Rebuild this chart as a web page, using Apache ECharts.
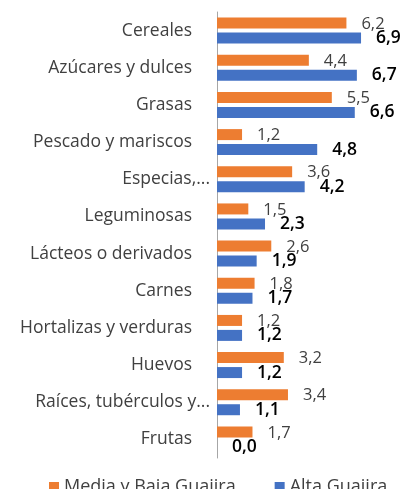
<!DOCTYPE html>
<html>
<head>
<meta charset="utf-8">
<script src="https://cdn.jsdelivr.net/npm/echarts@6/dist/echarts.min.js"></script>
<style>
  html, body { margin: 0; padding: 0; background: #fff; }
  #chart { width: 408px; height: 489px; }
</style>
</head>
<body>
<div id="chart"></div>
<script>
// categorias (de arriba hacia abajo)
var categorias = [
  'Cereales', 'Azúcares y dulces', 'Grasas', 'Pescado y mariscos', 'Especias,...',
  'Leguminosas', 'Lácteos o derivados', 'Carnes', 'Hortalizas y verduras',
  'Huevos', 'Raíces, tubérculos y...', 'Frutas'
];
var mediaBaja = [6.2, 4.4, 5.5, 1.2, 3.6, 1.5, 2.6, 1.8, 1.2, 3.2, 3.4, 1.7];
var alta = [6.9, 6.7, 6.6, 4.8, 4.2, 2.3, 1.9, 1.7, 1.2, 1.2, 1.1, 0.0];
var nombresSeries = ['Media y Baja Guajira', 'Alta Guajira'];

var FONT = 'Open Sans';

function fmtComa(p) {
  return p.value.toFixed(1).replace('.', ',');
}

var chart = echarts.init(document.getElementById('chart'), null, { renderer: 'canvas' });

var option = {
  animation: false,
  textStyle: { fontFamily: FONT },
  grid: { left: 217, right: 24, top: 12, bottom: 31 },
  legend: {
    data: nombresSeries,
    left: 44,
    top: 473,
    itemWidth: 10,
    itemHeight: 10,
    itemGap: 39,
    icon: 'rect',
    textStyle: { fontFamily: FONT, fontSize: 18, color: '#404040' }
  },
  xAxis: {
    type: 'value',
    min: 0,
    max: 8,
    show: false
  },
  yAxis: {
    type: 'category',
    data: categorias,
    inverse: true,
    axisLine: { show: true, lineStyle: { color: '#a6a6a6', width: 1 } },
    axisTick: { show: false },
    axisLabel: {
      margin: 7,
      fontFamily: FONT,
      fontSize: 17.5,
      color: '#404040',
      formatter: function (v) {
        // las etiquetas completas quedan más separadas del eje
        return v.slice(-3) === '...' ? v : '{n|' + v + '}';
      },
      rich: {
        n: { fontFamily: FONT, fontSize: 17.5, color: '#404040', padding: [0, 18, 0, 0] }
      }
    }
  },
  series: [
    {
      name: nombresSeries[0],
      type: 'bar',
      data: mediaBaja,
      barWidth: 11,
      barGap: '36%',
      itemStyle: { color: '#ed7d31' },
      label: {
        show: true,
        position: 'right',
        distance: 15,
        offset: [0, 1],
        formatter: fmtComa,
        fontFamily: FONT,
        fontSize: 16.5,
        color: '#404040'
      }
    },
    {
      name: nombresSeries[1],
      type: 'bar',
      data: alta,
      barWidth: 11,
      itemStyle: { color: '#4472c4' },
      label: {
        show: true,
        position: 'right',
        distance: 15,
        formatter: fmtComa,
        fontFamily: FONT,
        fontSize: 17.5,
        fontWeight: 600,
        color: '#000'
      }
    }
  ]
};

chart.setOption(option);
</script>
</body>
</html>
